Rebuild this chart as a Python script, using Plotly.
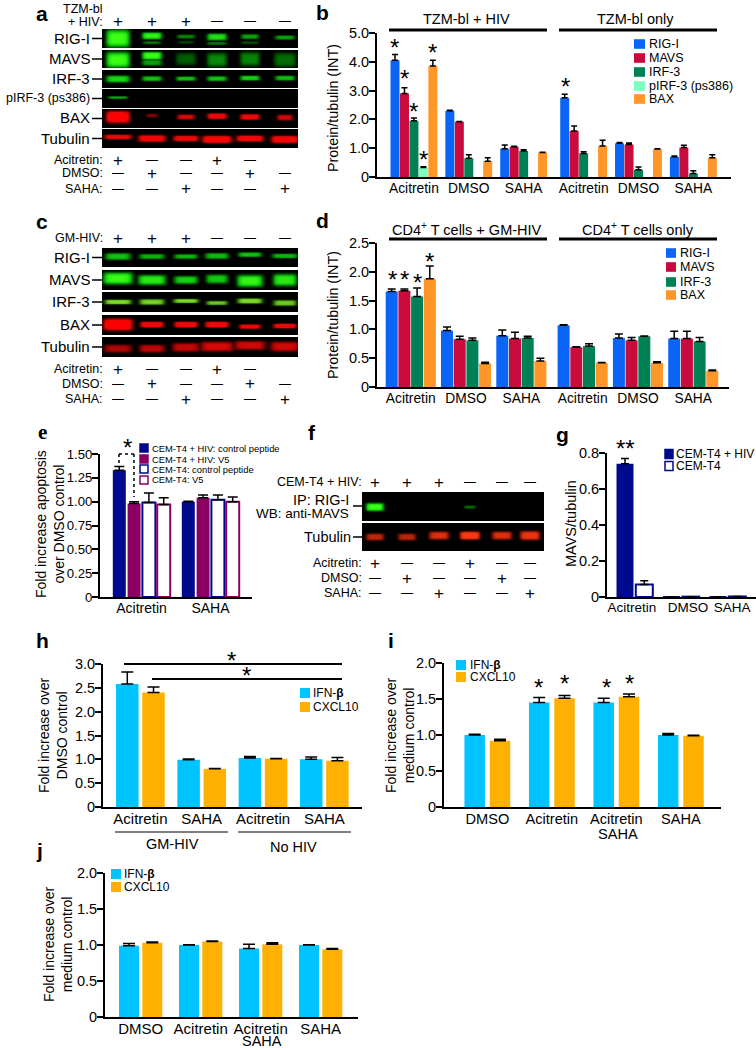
import numpy as np
import plotly.graph_objects as go

W, H = 756, 1050
FONT = "Liberation Sans"

# ---------- data ----------
b_groups = ["Acitretin", "DMSO", "SAHA", "Acitretin", "DMSO", "SAHA"]
b_series = ["RIG-I", "MAVS", "IRF-3", "pIRF-3 (ps386)", "BAX"]
b_rig = [4.05, 2.30, 0.98, 2.75, 1.17, 0.70]
b_mavs = [2.90, 1.92, 1.05, 1.60, 1.13, 1.02]
b_irf = [1.95, 0.65, 0.90, 0.82, 0.25, 0.12]
b_pirf = [0.33, None, None, None, None, None]
b_bax = [3.85, 0.55, 0.85, 1.08, 0.97, 0.67]
b_rig_e = [0.20, 0.02, 0.13, 0.12, 0.03, 0.03]
b_mavs_e = [0.20, 0.01, 0.02, 0.17, 0.05, 0.08]
b_irf_e = [0.10, 0.12, 0.05, 0.06, 0.10, 0.10]
b_pirf_e = [0.03, 0, 0, 0, 0, 0]
b_bax_e = [0.20, 0.12, 0.01, 0.20, 0.01, 0.10]

d_series = ["RIG-I", "MAVS", "IRF-3", "BAX"]
d_rig = [1.66, 0.98, 0.89, 1.07, 0.85, 0.84]
d_mavs = [1.67, 0.83, 0.84, 0.69, 0.81, 0.84]
d_irf = [1.57, 0.81, 0.85, 0.71, 0.88, 0.79]
d_bax = [1.88, 0.41, 0.45, 0.42, 0.42, 0.28]
d_rig_e = [0.04, 0.06, 0.10, 0.01, 0.07, 0.13]
d_mavs_e = [0.03, 0.05, 0.11, 0.01, 0.05, 0.13]
d_irf_e = [0.15, 0.04, 0.03, 0.04, 0.005, 0.07]
d_bax_e = [0.22, 0.02, 0.05, 0.005, 0.02, 0.015]

e_groups = ["Acitretin", "SAHA"]
e_series = ["CEM-T4 + HIV: control peptide", "CEM-T4 + HIV: V5", "CEM-T4: control peptide", "CEM-T4: V5"]
e_a = [1.33, 1.00]
e_b = [0.98, 1.04]
e_c = [0.99, 1.02]
e_d = [0.97, 1.00]
e_a_e = [0.04, 0.005]
e_b_e = [0.02, 0.03]
e_c_e = [0.10, 0.05]
e_d_e = [0.07, 0.05]

g_groups = ["Acitretin", "DMSO", "SAHA"]
g_series = ["CEM-T4 + HIV", "CEM-T4"]
g_hiv = [0.74, 0.002, 0.002]
g_nohiv = [0.07, 0.002, 0.003]
g_hiv_e = [0.03, 0, 0]
g_nohiv_e = [0.02, 0, 0]

cyt_series = ["IFN-<b>β</b>", "CXCL10"]
h_groups = ["Acitretin", "SAHA", "Acitretin", "SAHA"]
h_ifn = [2.58, 0.99, 1.03, 1.00]
h_cxcl = [2.40, 0.80, 1.01, 0.97]
h_ifn_e = [0.25, 0.015, 0.03, 0.05]
h_cxcl_e = [0.12, 0.01, 0.01, 0.07]

ij_groups = ["DMSO", "Acitretin", "Acitretin", "SAHA"]
ij_second_line = "SAHA"
i_ifn = [1.00, 1.45, 1.45, 1.00]
i_cxcl = [0.92, 1.51, 1.53, 0.99]
i_ifn_e = [0.01, 0.07, 0.06, 0.02]
i_cxcl_e = [0.02, 0.04, 0.04, 0.005]

j_ifn = [0.99, 1.00, 0.95, 1.00]
j_cxcl = [1.03, 1.05, 1.01, 0.94]
j_ifn_e = [0.03, 0.005, 0.06, 0.005]
j_cxcl_e = [0.01, 0.005, 0.02, 0.01]

# blot band read-outs: (lane, level, half width, half thickness, vertical place in strip)
a_rig = [(0,1,12,9,.5),(1,.95,10,3.5,.36),(1,.45,9,1.5,.72),(2,.5,9,2,.4),(2,.25,8,1.5,.7),(3,.85,10,3.5,.42),(3,.45,10,1.5,.76),(4,.6,9,2.5,.4),(4,.3,9,1.5,.72),(5,.6,10,2.2,.45)]
a_mavs = [(0,1,12,8,.55),(1,1,10,4,.32),(1,.6,10,3,.7),(2,.36,10,6,.5),(3,.52,10,7,.55),(4,.5,10,7,.5),(5,.42,11,7,.55)]
a_irf = [(0,.8,12,3.5,.5),(1,.72,10,2.5,.48),(2,.72,10,2.2,.48),(3,.72,10,2.5,.48),(4,.78,10,2.5,.45),(5,.7,10,2.5,.45)]
a_pirf = [(0,.6,10,1.4,.45)]
a_bax = [(0,1,12,6,.42),(1,.42,6,2,.35),(2,.72,9,2.5,.42),(3,.85,10,3,.38),(4,.82,10,3,.42),(5,.68,8,3,.45)]
a_tub = [(0,.8,14,2.5,.42),(1,.88,14,3.5,.5),(2,.85,13,3,.5),(3,.95,15,3.8,.55),(4,.88,14,3.2,.5),(5,.92,14,3.8,.55)]
c_rig = [(0,.72,13,3.5,.45),(1,.66,13,2.6,.45),(2,.68,12,2.4,.45),(3,.7,12,3,.42),(4,.72,12,2.4,.35),(5,.68,13,2.4,.42)]
c_mavs = [(0,.98,15,6,.42),(1,.9,14,5,.5),(2,.78,12,4,.5),(3,.75,11,4.5,.45),(4,.95,13,6,.55),(5,.9,12,6,.5)]
c_irf = [(0,.8,14,2.5,.5),(1,.75,13,3,.5),(2,.78,13,2.2,.45),(3,.7,11,2.2,.55),(4,.78,13,2.8,.45),(5,.72,12,3,.55)]
c_bax = [(0,1,15,6,.48),(1,.92,12,3,.48),(2,.92,12,3,.48),(3,.92,12,3,.48),(4,.85,11,2.3,.58),(5,.85,12,2.5,.55)]
c_tub = [(0,.58,14,4,.58),(1,.62,13,4,.58),(2,.64,14,4.5,.52),(3,.7,17,5,.48),(4,.68,16,4.5,.42),(5,.68,15,5,.48)]
f_ip = [(0,1,9,4,.52),(3,.4,6,1.6,.52)]
f_tub = [(0,.62,9,3.5,.5),(1,.6,9,3.5,.5),(2,.72,10,4,.45),(3,.95,10,4,.45),(4,.72,10,4,.45),(5,.8,10,4.5,.45)]

# ---------- colours ----------
BLUE, CRIM, TEAL, MINT, ORNG = "#0A64F5", "#C80A3C", "#008055", "#7DFFC0", "#FF9628"
NAVY, PURP = "#000A8C", "#8C0064"
CYAN, AMBER = "#00C4FF", "#FFB000"
GREEN = [[0, "#000000"], [.35, "#005A00"], [.75, "#12C812"], [1, "#3CFF14"]]
YGREEN = [[0, "#000000"], [.35, "#1E5000"], [.75, "#78D228"], [1, "#B4F050"]]
RED = [[0, "#000000"], [.35, "#640000"], [.75, "#E60A0A"], [1, "#FF0000"]]
ORED = [[0, "#000000"], [.35, "#6E1000"], [.75, "#E63210"], [1, "#FF3C14"]]

fig = go.Figure()
shapes, annos = [], []
px = lambda x: x / W
py = lambda y: 1 - y / H


def text(x, y, s, size=12.5, anchor="center", rot=0, family=FONT, color="black"):
    annos.append(dict(x=px(x), y=py(y), xref="paper", yref="paper", text=s, showarrow=False,
                      xanchor=anchor, yanchor="middle", textangle=rot, align="center",
                      font=dict(size=size, family=family, color=color), borderpad=0))


def line(x0, y0, x1, y1, w=1.5, dash="solid", color="black"):
    shapes.append(dict(type="line", xref="paper", yref="paper", x0=px(x0), y0=py(y0), x1=px(x1), y1=py(y1),
                       line=dict(color=color, width=w, dash=dash)))


def swatch(x0, y0, x1, y1, fill, edge=None):
    shapes.append(dict(type="rect", xref="paper", yref="paper", x0=px(x0), y0=py(y0), x1=px(x1), y1=py(y1),
                       fillcolor=fill, line=dict(color=edge or fill, width=1.5 if edge else 0)))


def star(x, y, s="*", size=24):
    text(x, y + 3, s, size=size)


def legend(x0, x1, ys, hh, tx, names, fills, edges=None, size=12.5):
    for i, (y, n, f) in enumerate(zip(ys, names, fills)):
        e = edges[i] if edges else None
        swatch(x0, y - hh, x1, y + hh, f, e)
        text(tx, y, n, size=size, anchor="left")


axis_id = [0]


def panel(left, right, top, bottom, ymax, yticks, yfmt, groups, series, x0, pitch, step, extra, split, width,
          tick_slot, tick_x=None, tickfont=14.5, ytickfont=14.5, cap=3.5, hollow=None):
    axis_id[0] += 1
    n = axis_id[0]
    xa, ya = f"x{n}", f"y{n}"
    starts = [x0 + step * i + (extra if i >= split else 0) for i in range(len(groups))]
    for si, (vals, errs, col, slot) in enumerate(series):
        xs = [s + pitch * slot for s in starts]
        hol = hollow and hollow[si]
        fig.add_trace(go.Bar(x=xs, y=vals, width=width, xaxis=xa, yaxis=ya, showlegend=False, hoverinfo="skip",
                             marker=dict(color="white" if hol else col, line=dict(color=col, width=2 if hol else 0)),
                             error_y=dict(type="data", symmetric=False, array=errs, arrayminus=[0] * len(errs),
                                          color="black", thickness=1.5, width=cap)))
    ticks = tick_x or [s + pitch * tick_slot for s in starts]
    fig.layout[f"xaxis{n}"] = dict(domain=[px(left), px(right)], range=[left, right], anchor=ya, tickvals=ticks,
                                   ticktext=groups, ticks="", showline=True, linecolor="black", linewidth=2,
                                   showgrid=False, zeroline=False, fixedrange=True, automargin=False,
                                   ticklabelstandoff=-3,
                                   tickfont=dict(family=FONT, size=tickfont, color="black"))
    fig.layout[f"yaxis{n}"] = dict(domain=[py(bottom), py(top)], range=[0, ymax], anchor=xa, tickvals=yticks,
                                   ticktext=[("0" if v == 0 else yfmt % v) for v in yticks], ticks="outside",
                                   ticklen=6, tickwidth=2, tickcolor="black", showline=True, linecolor="black",
                                   linewidth=2, showgrid=False, zeroline=False, fixedrange=True, automargin=False,
                                   ticklabelstandoff=-3,
                                   tickfont=dict(family=FONT, size=ytickfont, color="black"))


def strip(xl, xr, y0, y1, lanes, bands, scale):
    xs = np.arange(xl, xr) + .5
    ys = np.arange(y0, y1) + .5
    z = np.zeros((len(ys), len(xs)))
    for lane, level, hw, ht, place in bands:
        cy = y0 + (y1 - y0) * place
        g = level * np.exp(-((ys[:, None] - cy) / ht) ** 4) * np.exp(-((xs[None, :] - lanes[lane]) / hw) ** 6)
        z = np.maximum(z, g)
    fig.add_trace(go.Heatmap(z=np.round(z, 2).tolist(), x0=float(xs[0]), dx=1, y0=float(ys[0]), dy=1, zmin=0, zmax=1,
                             colorscale=scale, showscale=False, xaxis="x20", yaxis="y20", hoverinfo="skip"))


def marks(lanes, y, row):
    for x, m in zip(lanes, row):
        if m == "+":
            text(x, y, "+", size=17)
        elif m == "-":
            text(x, y, "—", size=12)


# overlay axis for the blots, in page pixels
fig.layout["xaxis20"] = dict(domain=[0, 1], range=[0, W], visible=False, fixedrange=True, anchor="y20", automargin=False)
fig.layout["yaxis20"] = dict(domain=[0, 1], range=[H, 0], visible=False, fixedrange=True, anchor="x20", automargin=False)

# ---------- panel a ----------
la = [118, 152, 186, 217, 250, 285]
text(104, 9, "TZM-bl", anchor="right")
text(104, 22, "+ HIV:", anchor="right")
marks(la, 21, "+++---")
for (y0, y1, name, band, sc, sz) in [
    (29, 48, "RIG-I", a_rig, GREEN, 15), (50, 68, "MAVS", a_mavs, GREEN, 15), (70, 88, "IRF-3", a_irf, GREEN, 15),
    (89, 108, "pIRF-3 (ps386)", a_pirf, GREEN, 12.5), (109, 128, "BAX", a_bax, RED, 15), (129, 148, "Tubulin", a_tub, RED, 15)]:
    strip(102, 298, y0, y1, la, band, sc)
    text(91, (y0 + y1) / 2 - .5, name, size=sz, anchor="right")
    line(92, (y0 + y1) / 2, 102, (y0 + y1) / 2)
for y, nm, row in [(160, "Acitretin:", "+--+- "), (173, "DMSO:", "-+--+-"), (189, "SAHA:", "--+--+")]:
    text(104, y, nm, anchor="right")
    marks(la, y, row)

# ---------- panel c ----------
text(104, 238, "GM-HIV:", anchor="right")
marks(la, 238, "+++---")
for (y0, y1, name, band, sc) in [(248, 267, "RIG-I", c_rig, GREEN), (270, 290, "MAVS", c_mavs, GREEN),
                                 (292, 312, "IRF-3", c_irf, YGREEN), (315, 335, "BAX", c_bax, RED),
                                 (337, 357, "Tubulin", c_tub, RED)]:
    strip(102, 298, y0, y1, la, band, sc)
    text(91, (y0 + y1) / 2 - .5, name, size=15, anchor="right")
    line(92, (y0 + y1) / 2, 102, (y0 + y1) / 2)
for y, nm, row in [(369, "Acitretin:", "+--+- "), (384, "DMSO:", "-+--+-"), (399, "SAHA:", "--+--+")]:
    text(104, y, nm, anchor="right")
    marks(la, y, row)

# ---------- panel f ----------
lf = [375, 407, 439, 470, 502, 530]
text(363, 482, "CEM-T4 + HIV:", anchor="right")
marks(lf, 482, "+++---")
strip(362, 544, 492, 521, lf, f_ip, GREEN)
strip(362, 544, 523, 551, lf, f_tub, ORED)
text(350, 500, "IP: RIG-I", size=14.5, anchor="right")
text(350, 513, "WB: anti-MAVS", size=13.5, anchor="right")
line(353, 506, 362, 506)
text(352, 537, "Tubulin", size=14.5, anchor="right")
line(353, 537, 362, 537)
for y, nm, row in [(563, "Acitretin:", "+--+--"), (578, "DMSO:", "-+--+-"), (593, "SAHA:", "--+--+")]:
    text(363, y, nm, anchor="right")
    marks(lf, y, row)

# ---------- panel b ----------
panel(377, 731, 33, 177, 5, [0, 1, 2, 3, 4, 5], "%.1f", b_groups,
      [(b_rig, b_rig_e, BLUE, 0), (b_mavs, b_mavs_e, CRIM, 1), (b_irf, b_irf_e, TEAL, 2),
       (b_pirf, b_pirf_e, MINT, 3), (b_bax, b_bax_e, ORNG, 4)],
      395, 9.47, 54.85, 5.15, 3, 9, 2, tickfont=13.8, cap=3)
text(333, 108, "Protein/tubulin (INT)", size=14.3, rot=-90)
text(467, 19, "TZM-bl + HIV", size=14.5)
text(635, 19, "TZM-bl only", size=14.5)
line(389, 30, 547, 30, 3)
line(559, 30, 717, 30, 3)
legend(634, 645, [44, 58, 72, 86, 99], 4.8, 648, b_series, [BLUE, CRIM, TEAL, MINT, ORNG])
for x, y in [(394, 45), (404, 76), (413, 108), (423, 156), (432, 50), (565, 83)]:
    star(x, y)

# ---------- panel d ----------
panel(377, 729, 243, 387, 2.5, [0, .5, 1, 1.5, 2, 2.5], "%.1f", b_groups,
      [(d_rig, d_rig_e, BLUE, 0), (d_mavs, d_mavs_e, CRIM, 1), (d_irf, d_irf_e, TEAL, 2), (d_bax, d_bax_e, ORNG, 3)],
      391.7, 12.7, 55.3, 6, 3, 12, 1.5, tickfont=13.8, cap=4)
text(333, 315, "Protein/tubulin (INT)", size=14.3, rot=-90)
text(467, 229, "CD4<sup>+</sup> T cells + GM-HIV", size=14.5)
text(638, 229, "CD4<sup>+</sup> T cells only", size=14.5)
line(389, 239, 547, 239, 3)
line(559, 239, 717, 239, 3)
legend(666, 676, [253, 267, 282, 295], 4.8, 679, d_series, [BLUE, CRIM, TEAL, ORNG])
for x, y in [(392, 276), (404, 276), (417, 279), (429, 258)]:
    star(x, y)

# ---------- panel e ----------
panel(100, 252, 454, 597, 1.5, [0, .25, .5, .75, 1, 1.25, 1.5], "%.2f", e_groups,
      [(e_a, e_a_e, NAVY, 0), (e_b, e_b_e, PURP, 1), (e_c, e_c_e, NAVY, 2), (e_d, e_d_e, PURP, 3)],
      119.3, 14.8, 69, 0, 9, 13, 1.5, tickfont=14, ytickfont=13.2, cap=5, hollow=[0, 0, 1, 1])
text(50, 524, "Fold increase apoptosis<br>over DMSO control", size=14, rot=-90)
legend(140, 148, [448, 459, 469, 480], 4, 150.5, e_series, [NAVY, PURP, "white", "white"],
       [NAVY, PURP, NAVY, PURP], size=9.4)
line(119, 463, 119, 454, 1.5, "dot")
line(119, 454, 134, 454, 1.5, "dot")
line(134, 454, 134, 497, 1.5, "dot")
star(127, 444)

# ---------- panel g ----------
panel(607, 756, 453, 597, .8, [0, .2, .4, .6, .8], "%.1f", g_groups,
      [(g_hiv, g_hiv_e, NAVY, 0), (g_nohiv, g_nohiv_e, NAVY, 1)],
      625, 19.3, 46.5, 0, 9, 17, .5, tick_x=[632, 688, 732], tickfont=13.5, cap=4, hollow=[0, 1])
text(571, 524, "MAVS/tubulin", size=14.5, rot=-90)
legend(665, 673, [454, 466], 4.5, 675, g_series, [NAVY, "white"], [NAVY, NAVY], size=12)
star(625, 445, "**")

# ---------- panel h ----------
panel(103, 362, 664, 807, 3, [0, .5, 1, 1.5, 2, 2.5, 3], "%.1f", h_groups,
      [(h_ifn, h_ifn_e, CYAN, 0), (h_cxcl, h_cxcl_e, AMBER, 1)],
      127.3, 26.2, 61.3, 0, 9, 22.5, .5, tickfont=15, cap=6)
text(53, 735, "Fold increase over<br>DMSO control", size=14, rot=-90)
legend(300, 310, [693, 707], 5, 312, cyt_series, [CYAN, AMBER], size=12)
line(124, 664, 342, 664, 2)
line(152, 679, 342, 679, 2)
star(231, 657)
star(246, 672)
line(115, 832, 228, 832, 1.2)
line(238, 832, 351, 832, 1.2)
text(172, 844, "GM-HIV", size=14.5)
text(293, 847, "No HIV", size=14.5)

# ---------- panel i ----------
panel(444, 721, 663, 807, 2, [0, .5, 1, 1.5, 2], "%.1f", ij_groups,
      [(i_ifn, i_ifn_e, CYAN, 0), (i_cxcl, i_cxcl_e, AMBER, 1)],
      474.7, 25.3, 64.5, 0, 9, 20.5, .5, tickfont=14.6, cap=6)
text(400, 735, "Fold increase over<br>medium control", size=14, rot=-90)
legend(456, 466, [665, 677], 5, 469, cyt_series, [CYAN, AMBER], size=12)
text(618, 834, ij_second_line, size=14.6)
for x, y in [(538, 684), (564, 680), (606, 684), (629, 680)]:
    star(x, y)

# ---------- panel j ----------
panel(105, 358, 873, 1017, 2, [0, .5, 1, 1.5, 2], "%.1f", ij_groups,
      [(j_ifn, j_ifn_e, CYAN, 0), (j_cxcl, j_cxcl_e, AMBER, 1)],
      129, 23.3, 60, 0, 9, 20, .5, tickfont=15, cap=6)
text(58, 944, "Fold increase over<br>medium control", size=14, rot=-90)
legend(111, 121, [874, 887], 5, 123, cyt_series, [CYAN, AMBER], size=12)
text(262, 1041, ij_second_line, size=14.5)

# ---------- panel letters ----------
for x, y, s, fam in [(42, 13, "a", FONT), (322, 12, "b", FONT), (42, 222, "c", FONT), (322, 220, "d", FONT),
                     (42, 432, "e", "Liberation Serif"), (312, 432, "f", FONT), (562, 434, "g", FONT),
                     (42, 640, "h", FONT), (391, 640, "i", FONT), (39, 850, "j", FONT)]:
    text(x, y, f"<b>{s}</b>", size=21, family=fam)

fig.update_layout(width=W, height=H, autosize=False, margin=dict(l=0, r=0, t=0, b=0, pad=0, autoexpand=False),
                  showlegend=False, paper_bgcolor="white", plot_bgcolor="rgba(0,0,0,0)", barmode="overlay",
                  shapes=shapes, annotations=annos, font=dict(family=FONT, color="black"))
fig.write_html("out.html", config=dict(displayModeBar=False),
               post_script="document.body.style.margin='0';document.body.style.overflow='hidden';")
